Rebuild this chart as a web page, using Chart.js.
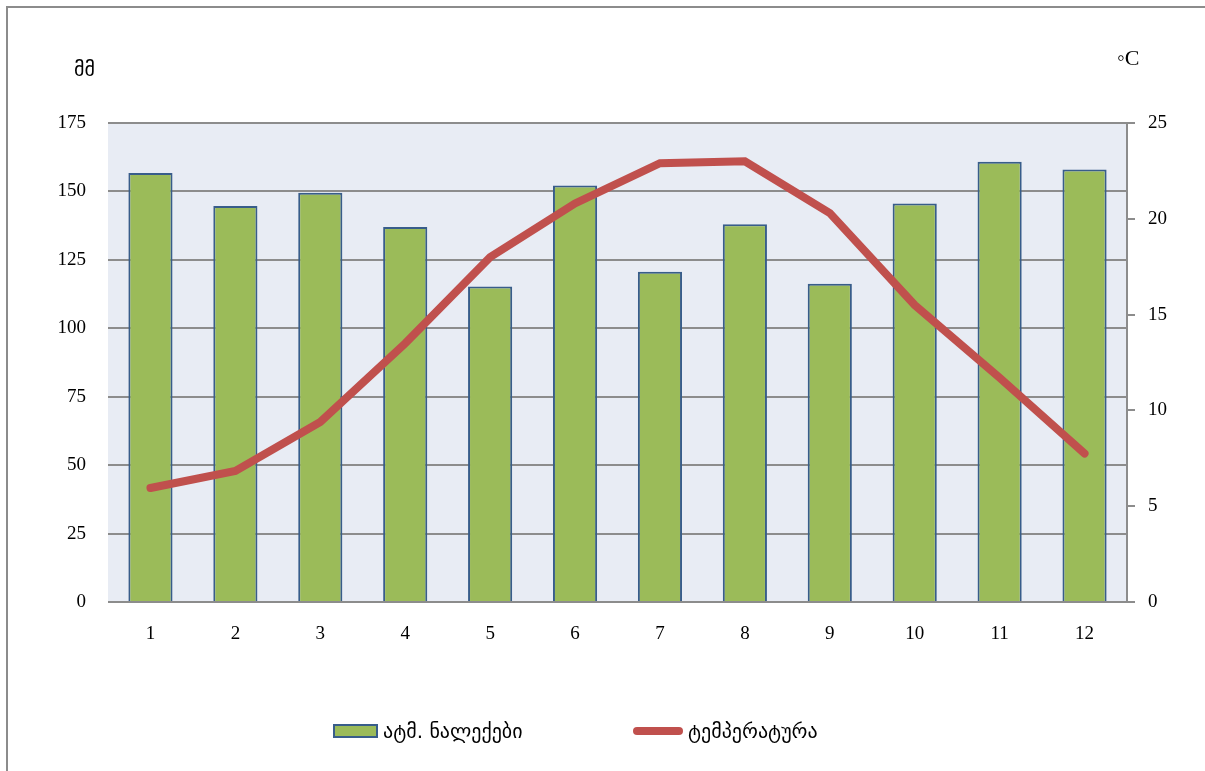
<!DOCTYPE html>
<html><head><meta charset="utf-8">
<script src="https://cdn.jsdelivr.net/npm/chart.js@4.4.0/dist/chart.umd.min.js"></script>
<style>
html,body{margin:0;padding:0;background:#fff;overflow:hidden;}
#wrap{position:relative;width:1205px;height:771px;overflow:hidden;}
#frame{position:absolute;left:6px;top:6px;width:1300px;height:900px;border-left:2px solid #8c8c8c;border-top:2px solid #8c8c8c;}
canvas{position:absolute;left:0;top:0;}
.unit{position:absolute;color:#000;white-space:nowrap;}
#legend{position:absolute;left:333px;top:719px;display:flex;align-items:center;font-family:"DejaVu Sans","Noto Sans",sans-serif;font-size:20px;color:#000;}
.item{display:flex;align-items:center;}
.sw-bar{width:41px;height:10px;background:#9BBB59;border:2px solid #385D8A;margin-right:5px;}
.sw-line{width:50px;height:8px;background:#C0504D;border-radius:4px;margin-right:5px;}
</style></head>
<body>
<div id="wrap">
<div id="frame"></div>
<canvas id="c" width="1205" height="771"></canvas>
<div class="unit" id="uL" style="left:74px;top:57px;font-family:'DejaVu Sans',sans-serif;font-size:20px;">მმ</div>
<div class="unit" id="uR" style="left:1117px;top:45px;font-family:'Liberation Serif',serif;font-size:22px;">◦C</div>
<div id="legend">
  <div class="item" style="width:300px;"><span class="sw-bar"></span><span id="l1"></span></div>
  <div class="item"><span class="sw-line"></span><span id="l2"></span></div>
</div>
</div>
<script>
const months = ['1','2','3','4','5','6','7','8','9','10','11','12'];
const precipitation = [156.7, 144.7, 149.5, 137.0, 115.3, 152.2, 120.7, 138.0, 116.3, 145.6, 160.8, 158.0];
const temperature = [5.95, 6.84, 9.4, 13.5, 18.0, 20.8, 22.9, 23.0, 20.3, 15.5, 11.7, 7.75];
const precipLabel = 'ატმ. ნალექები';
const tempLabel = 'ტემპერატურა';
const leftUnit = 'მმ';
const rightUnit = '◦C';
const leftMax = 175, leftStep = 25;
const rightMax = 25, rightStep = 5;

document.getElementById('l1').textContent = precipLabel;
document.getElementById('l2').textContent = tempLabel;
document.getElementById('uL').textContent = leftUnit;
document.getElementById('uR').textContent = rightUnit;

const gridGray = '#8c8c8c';
const tickFont = {family: "'Liberation Serif', 'Times New Roman', serif", size: 19};

const bgPlugin = {
  id: 'plotBg',
  beforeDraw(chart) {
    const {ctx, chartArea: a} = chart;
    ctx.save();
    ctx.fillStyle = '#E8ECF4';
    ctx.fillRect(a.left, a.top, a.right - a.left, a.bottom - a.top);
    ctx.restore();
  }
};

new Chart(document.getElementById('c'), {
  type: 'bar',
  data: {
    labels: months,
    datasets: [
      {
        type: 'line',
        label: tempLabel,
        data: temperature,
        yAxisID: 'y1',
        borderColor: '#C0504D',
        backgroundColor: '#C0504D',
        borderWidth: 8,
        pointRadius: 0,
        tension: 0,
        borderCapStyle: 'round',
        borderJoinStyle: 'miter',
        order: 0
      },
      {
        type: 'bar',
        label: precipLabel,
        data: precipitation,
        yAxisID: 'y',
        backgroundColor: '#9BBB59',
        borderColor: '#385D8A',
        borderWidth: 2,
        barPercentage: 0.52,
        categoryPercentage: 1.0,
        order: 1
      }
    ]
  },
  options: {
    responsive: false,
    animation: false,
    devicePixelRatio: 1,
    layout: {padding: {top: 123, bottom: 57, left: 0, right: 0}},
    plugins: {legend: {display: false}, tooltip: {enabled: false}},
    scales: {
      x: {
        grid: {display: false},
        border: {display: false},
        ticks: {font: tickFont, color: '#000', padding: 13, maxRotation: 0},
        afterFit(s) { s.height = 112; }
      },
      y: {
        position: 'left',
        min: 0, max: leftMax,
        grid: {color: gridGray, lineWidth: 2, drawTicks: false},
        border: {display: false},
        ticks: {stepSize: leftStep, font: tickFont, color: '#000', padding: 22},
        afterFit(s) { s.width = 108; }
      },
      y1: {
        position: 'right',
        min: 0, max: rightMax,
        grid: {drawOnChartArea: false, drawTicks: true, tickLength: 8, color: gridGray, lineWidth: 2},
        border: {display: true, color: gridGray, width: 2},
        ticks: {stepSize: rightStep, font: tickFont, color: '#000', padding: 13},
        afterFit(s) { s.width = 78; }
      }
    }
  },
  plugins: [bgPlugin]
});
</script>
</body></html>
